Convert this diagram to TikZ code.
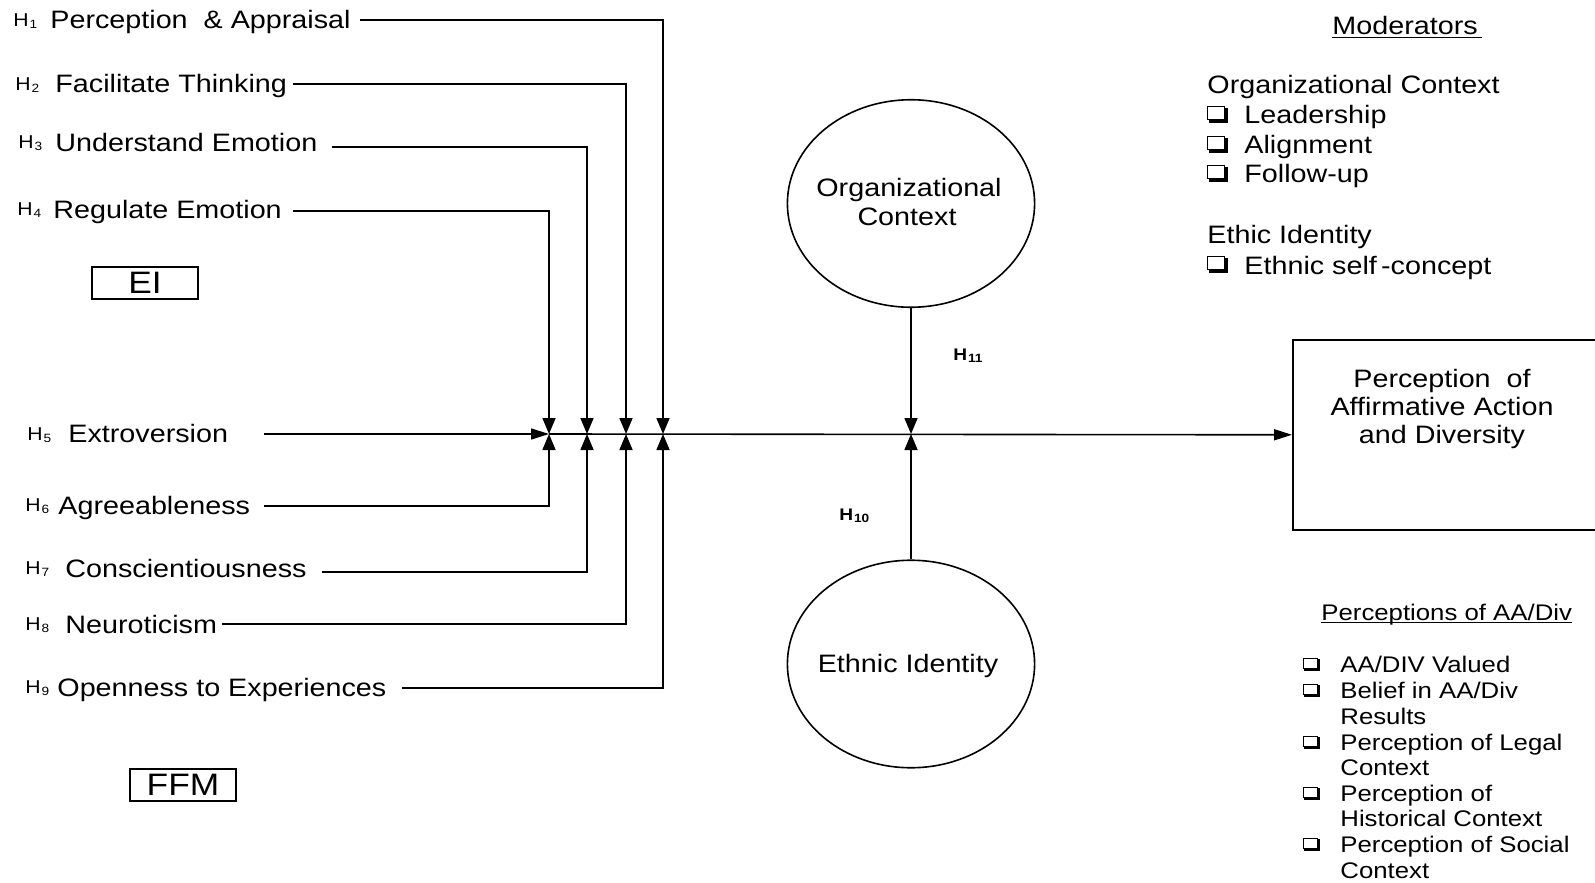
\documentclass[tikz,border=0pt]{standalone}
\usepackage{fontspec}
\setmainfont[FakeStretch=1.14]{Liberation Sans}
\usetikzlibrary{arrows.meta,shapes.geometric}
\newcommand\Hs[1]{H\kern0.4pt\raisebox{-1pt}{\fontsize{6}{6}\selectfont #1}}
\tikzset{
  ln/.style={line width=0.8pt},
  va/.style={ln,-{Triangle[length=8pt,width=6.5pt]}},
  ha/.style={ln,-{Triangle[length=9pt,width=5.5pt]}},
  lab/.style={anchor=base west,inner sep=0pt,font=\fontsize{12.6}{15}\selectfont},
  hl/.style={anchor=base west,inner sep=0pt,font=\fontsize{9.3}{11}\selectfont},
  sm/.style={anchor=base west,inner sep=0pt,font=\fontsize{11.3}{13}\selectfont},
  ctr/.style={anchor=base,inner sep=0pt,font=\fontsize{12.6}{15}\selectfont},
  hb/.style={anchor=base west,inner sep=0pt,font=\fontsize{8.4}{10}\selectfont\bfseries},
  tagbox/.style={draw,ln,inner sep=0pt,minimum width=53pt,minimum height=16pt,font=\fontsize{15.5}{18}\selectfont},
  oval/.style={draw,ln,ellipse,inner sep=0pt,minimum width=123.6pt,minimum height=103.75pt},
  chk/.pic={
    \draw[line width=0.6pt] (0.3,0.3) rectangle (14.5,12.5);
    \draw[line width=1.5pt] (1.5,14) -- (16,14) -- (16,1.5);
  }
}
\begin{document}
\begin{tikzpicture}[x=0.5pt,y=-0.5pt]
\useasboundingbox (0,0) rectangle (1595,883);

% ---- left labels
\node[hl] (h1) at (13,26.2) {\Hs{1}};
\node[lab] (t1) at (50,28.5) {Perception\ \ \& Appraisal};
\node[hl] (h2) at (15,90.2) {\Hs{2}};
\node[lab] (t2) at (55,92.5) {Facilitate Thinking};
\node[hl] (h3) at (18,148.7) {\Hs{3}};
\node[lab] (t3) at (55,151) {Understand Emotion};
\node[hl] (h4) at (17,215.7) {\Hs{4}};
\node[lab] (t4) at (53,218) {Regulate Emotion};
\node[hl] (h5) at (27,440.2) {\Hs{5}};
\node[lab] (t5) at (68,442.5) {Extroversion};
\node[hl] (h6) at (25,511.7) {\Hs{6}};
\node[lab] (t6) at (58,514) {Agreeableness};
\node[hl] (h7) at (25,574.7) {\Hs{7}};
\node[lab] (t7) at (65,577) {Conscientiousness};
\node[hl] (h8) at (25,630.7) {\Hs{8}};
\node[lab] (t8) at (65,633) {Neuroticism};
\node[hl] (h9) at (25,693.7) {\Hs{9}};
\node[lab] (t9) at (57,696) {Openness to Experiences};

\node[tagbox] (ei) at (145,283) {\raisebox{-1.5pt}{EI}};
\node[tagbox] (ffm) at (183,785) {\raisebox{-1.5pt}{FFM}};

% ---- coordinates
\coordinate (s1) at (360,20);
\coordinate (s2) at (293,84);
\coordinate (s3) at (332,147);
\coordinate (s4) at (293,211);
\coordinate (s5) at (264,434);
\coordinate (s6) at (264,506);
\coordinate (s7) at (322,572);
\coordinate (s8) at (222,624);
\coordinate (s9) at (402,688);
\coordinate (j1) at (549,434);
\coordinate (j2) at (587,434);
\coordinate (j3) at (626,434);
\coordinate (j4) at (663,434);
\coordinate (j5) at (911,434);

% ---- ovals and box
\node[oval] (org) at (911,203.5) {};
\node[oval] (eth) at (911,664) {};
\node[ctr] (orgt1) at (909,196) {Organizational};
\node[ctr] (orgt2) at (907,225) {Context};
\node[ctr] (etht) at (908,672) {Ethnic Identity};

\node[draw,ln,anchor=north west,inner sep=0pt,minimum width=160pt,minimum height=95pt] (box) at (1292,339) {};
\node[ctr] (p1) at (1442,387) {Perception\ \ of};
\node[ctr] (p2) at (1442,415) {Affirmative Action};
\node[ctr] (p3) at (1442,443.5) {and Diversity};

\node[hb] (h11) at (953,360) {\Hs{11}};
\node[hb] (h10) at (839,520) {\Hs{10}};

% ---- connectors
\draw[va] (s1) -| (j4);
\draw[va] (s2) -| (j3);
\draw[va] (s3) -| (j2);
\draw[va] (s4) -| (j1);
\draw[ha] (s5) -- (j1);
\draw[va] (s6) -| (j1);
\draw[va] (s7) -| (j2);
\draw[va] (s8) -| (j3);
\draw[va] (s9) -| (j4);
\draw[ha] (j1) -- (box.west);
\draw[va] (org.south) -- (j5);
\draw[va] (eth.north) -- (j5);

% ---- moderators
\node[lab] (mod) at (1332,35) {Moderators};
\draw[line width=0.6pt] ([yshift=-1.3pt]mod.base west) -- ([yshift=-1.3pt,xshift=2pt]mod.base east);
\node[lab] (oc) at (1207,94) {Organizational Context};
\pic[xscale=1.2,yscale=1.1] at (1207,106) {chk};
\node[lab] (m1) at (1244,124) {Leadership};
\pic[xscale=1.2,yscale=1.1] at (1207,136) {chk};
\node[lab] (m2) at (1244,154) {Alignment};
\pic[xscale=1.2,yscale=1.1] at (1207,165) {chk};
\node[lab] (m3) at (1244,182.5) {Follow-up};
\node[lab] (ei2) at (1207,243) {Ethic Identity};
\pic[xscale=1.2,yscale=1.1] at (1207,256) {chk};
\node[lab] (m4) at (1244,274) {Ethnic self\,-concept};

% ---- perceptions list
\node[sm] (pad) at (1321,620) {Perceptions of AA/Div};
\draw[line width=0.6pt] ([yshift=-1.2pt]pad.base west) -- ([yshift=-1.2pt]pad.base east);
\pic[xscale=0.98,yscale=0.85] at (1303,658) {chk};
\node[sm] (l1) at (1340,672) {AA/DIV Valued};
\pic[xscale=0.98,yscale=0.85] at (1303,684) {chk};
\node[sm] (l2) at (1340,698) {Belief in AA/Div};
\node[sm] (l2b) at (1340,724) {Results};
\pic[xscale=0.98,yscale=0.85] at (1303,736) {chk};
\node[sm] (l3) at (1340,750) {Perception of Legal};
\node[sm] (l3b) at (1340,775) {Context};
\pic[xscale=0.98,yscale=0.85] at (1303,787) {chk};
\node[sm] (l4) at (1340,801) {Perception of};
\node[sm] (l4b) at (1340,826) {Historical Context};
\pic[xscale=0.98,yscale=0.85] at (1303,838) {chk};
\node[sm] (l5) at (1340,852) {Perception of Social};
\node[sm] (l5b) at (1340,878) {Context};
\end{tikzpicture}
\end{document}
